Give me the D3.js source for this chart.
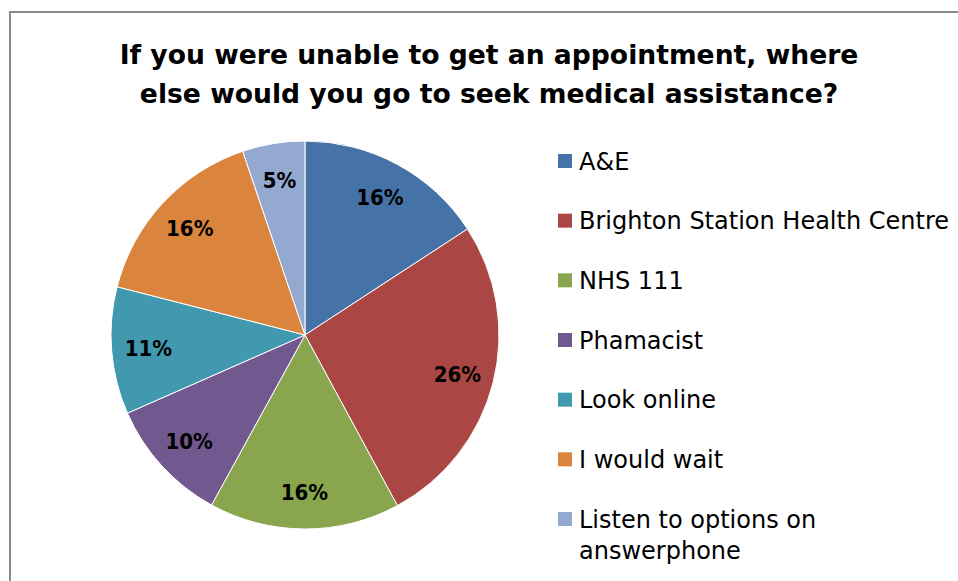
<!DOCTYPE html>
<html lang="en">
<head>
  <meta charset="UTF-8">
  <title>Medical assistance pie</title>
  <script src="https://cdnjs.cloudflare.com/ajax/libs/d3/7.8.5/d3.min.js"></script>
  <style>
    body { margin: 0; background: #fff; }
    text { font-family: "DejaVu Sans", sans-serif; fill: #000; }
    .title { font-size: 26.6px; font-weight: bold; }
    .legend text { font-size: 24px; }
    .label { font-family: "DejaVu Sans Condensed", "DejaVu Sans", sans-serif; font-stretch: condensed; font-size: 22px; font-weight: bold; }
  </style>
</head>
<body>
  <div id="chart"></div>
  <script>
    // data
    var categories = ["A&E", "Brighton Station Health Centre", "NHS 111", "Phamacist",
                      "Look online", "I would wait", "Listen to options on answerphone"];
    var values = [15.8, 26.3, 15.9, 10.4, 10.6, 15.8, 5.2];
    var labels = ["16%", "26%", "16%", "10%", "11%", "16%", "5%"];
    var colors = ["#4572A7", "#AA4643", "#89A54E", "#71588F", "#4198AF", "#DB843D", "#93A9CF"];
    var titleLines = ["If you were unable to get an appointment, where",
                      "else would you go to seek medical assistance?"];

    var width = 958, height = 581;
    var cx = 305, cy = 335, radius = 194;

    var svg = d3.select("#chart").append("svg")
        .attr("width", width)
        .attr("height", height);

    // chart area border (top and left visible)
    svg.append("path")
        .attr("d", "M10," + height + "V12H" + width)
        .attr("fill", "none")
        .attr("stroke", "#8c8c8c")
        .attr("stroke-width", 2);

    // title
    svg.append("g").selectAll("text")
        .data(titleLines)
      .enter().append("text")
        .attr("class", "title")
        .attr("x", 489)
        .attr("y", function(d, i) { return 64 + i * 39; })
        .attr("text-anchor", "middle")
        .text(function(d) { return d; });

    var color = d3.scaleOrdinal().domain(categories).range(colors);

    var pie = d3.pie().sort(null).value(function(d) { return d.value; });
    var data = categories.map(function(c, i) {
      return {name: c, value: values[i], label: labels[i]};
    });
    var arcs = pie(data);

    var arc = d3.arc().innerRadius(0).outerRadius(radius);
    var labelArc = d3.arc().innerRadius(radius * 0.81).outerRadius(radius * 0.81);

    var g = svg.append("g")
        .attr("transform", "translate(" + cx + "," + cy + ")");

    g.selectAll("path")
        .data(arcs)
      .enter().append("path")
        .attr("d", arc)
        .attr("fill", function(d) { return color(d.data.name); })
        .attr("stroke", "#fff")
        .attr("stroke-width", 1);

    g.selectAll("text")
        .data(arcs)
      .enter().append("text")
        .attr("class", "label")
        .attr("transform", function(d) { return "translate(" + labelArc.centroid(d) + ")"; })
        .attr("text-anchor", "middle")
        .attr("dy", "0.36em")
        .text(function(d) { return d.data.label; });

    // legend
    var rowY = d3.scalePoint().domain(categories).range([161, 519]);
    var wrap = {"Listen to options on answerphone": ["Listen to options on", "answerphone"]};

    var legend = svg.append("g").attr("class", "legend");
    var item = legend.selectAll("g")
        .data(categories)
      .enter().append("g")
        .attr("transform", function(d) { return "translate(558," + rowY(d) + ")"; });

    item.append("rect")
        .attr("x", 0)
        .attr("y", -7)
        .attr("width", 14)
        .attr("height", 14)
        .attr("fill", function(d) { return color(d); });

    item.append("text")
        .attr("x", 21)
        .attr("y", 0)
        .selectAll("tspan")
        .data(function(d) { return wrap[d] || [d]; })
      .enter().append("tspan")
        .attr("x", 21)
        .attr("dy", function(d, i) { return i === 0 ? "0.36em" : "1.3em"; })
        .text(function(d) { return d; });
  </script>
</body>
</html>
